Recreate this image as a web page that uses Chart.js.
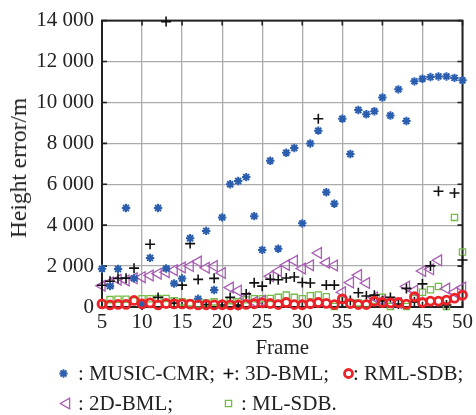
<!DOCTYPE html>
<html>
<head>
<meta charset="utf-8">
<script src="https://cdn.jsdelivr.net/npm/chart.js@4/dist/chart.umd.min.js"></script>
<style>
  html, body { margin: 0; padding: 0; background: #fff; }
  #wrap { position: relative; width: 476px; height: 415px; }
  #wrap canvas { position: absolute; left: 0; top: 0; }
  .lg { position: absolute; font-family: "Liberation Serif", "Times New Roman", serif;
        font-size: 21px; line-height: 24px; color: #222; white-space: pre; }
  #ytitle { position: absolute; left: 18px; top: 168px; width: 0; height: 0; }
  #ytitle span { position: absolute; left: 0; top: 0; transform: translate(-50%, -50%) rotate(-90deg);
        font-family: "Liberation Serif", "Times New Roman", serif; font-size: 23.5px; line-height: 26px;
        color: #222; white-space: pre; }
</style>
</head>
<body>
<div id="wrap">
  <canvas id="c" width="476" height="415"></canvas>
  <div id="ytitle"><span>Height error/m</span></div>
  <span class="lg" style="left:78px; top:361px;">: MUSIC-CMR;</span>
  <span class="lg" style="left:234px; top:361px;">: 3D-BML;</span>
  <span class="lg" style="left:353px; top:361px;">: RML-SDB;</span>
  <span class="lg" style="left:78px; top:391px;">: 2D-BML;</span>
  <span class="lg" style="left:241px; top:391px;">: ML-SDB.</span>
</div>
<script>
// Frame numbers and height errors (m) per method
const frames = [5,6,7,8,9,10,11,12,13,14,15,16,17,18,19,20,21,22,23,24,25,26,27,28,29,30,31,32,33,34,35,36,37,38,39,40,41,42,43,44,45,46,47,48,49,50];

const musicCmr = [1870,1020,1860,4840,1400,150,2400,4840,1880,1150,1390,3360,400,3720,830,4380,6000,6160,6350,4440,2790,7150,2850,7540,7770,4090,7990,8620,5610,5050,9200,7480,9630,9420,9570,10240,9360,10640,9090,11030,11160,11240,11270,11270,11200,11080];

const bml3d = [1060,1260,1400,1410,1900,100,3070,470,13950,190,1070,3100,1350,120,1400,100,470,90,640,1180,1020,1360,1330,1420,1470,1200,1170,9200,1070,1070,230,320,700,540,580,300,470,150,910,250,1130,2010,5660,100,5570,2300];

const rmlSdb = [150,100,130,130,320,150,200,100,170,150,150,140,100,110,100,110,100,100,130,160,200,170,120,220,120,110,160,220,180,120,400,170,120,120,280,220,200,220,140,500,220,290,290,340,430,580];

const bml2d = [1040,1200,1330,1300,1400,1460,1540,1630,1700,1800,1930,2000,2220,1920,2000,1660,950,800,450,250,300,1500,1760,2050,2260,1880,2040,2640,2160,2030,720,1200,1560,1170,470,300,200,200,1000,800,1760,1840,2280,900,720,950];

const mlSdb = [150,360,380,380,300,400,400,420,420,300,250,200,150,200,250,150,310,250,350,400,400,420,470,580,470,400,550,590,500,30,350,150,200,150,330,470,30,230,30,400,720,840,1000,30,4380,2690];

const xTicks = [5,10,15,20,25,30,35,40,45,50];
const yTicks = [0,2000,4000,6000,8000,10000,12000,14000];

const FONT = "'Liberation Serif', 'Times New Roman', serif";

const toPoints = vals => frames.map((f, i) => ({ x: f, y: vals[i] }));

const fmt = v => {
  const s = String(Math.round(v));
  return s.length > 3 ? s.slice(0, s.length - 3) + ' ' + s.slice(-3) : s;
};

const styles = {
  music: { pointStyle: 'star', radius: 4.2, borderWidth: 2, borderColor: '#2c5eae', backgroundColor: '#2c5eae', rotation: 0 },
  bml3d: { pointStyle: 'cross', radius: 5, borderWidth: 1.6, borderColor: '#111', backgroundColor: '#111', rotation: 0 },
  rml:   { pointStyle: 'circle', radius: 4, borderWidth: 2.8, borderColor: '#ec2228', backgroundColor: 'rgba(0,0,0,0)', rotation: 0 },
  bml2d: { pointStyle: 'triangle', radius: 6.2, borderWidth: 1.3, borderColor: '#a95cb4', backgroundColor: 'rgba(0,0,0,0)', rotation: -90 },
  ml:    { pointStyle: 'rect', radius: 4.4, borderWidth: 1.3, borderColor: '#74bd44', backgroundColor: 'rgba(0,0,0,0)', rotation: 0 }
};

const ds = (label, vals, st, order) => ({
  label, data: toPoints(vals), order, clip: false, showLine: false,
  pointStyle: st.pointStyle, pointRadius: st.radius, pointBorderWidth: st.borderWidth,
  pointBorderColor: st.borderColor, pointBackgroundColor: st.backgroundColor,
  pointRotation: st.rotation, pointHoverRadius: st.radius
});

// Frame box, inward tick marks and legend symbols
const framePlugin = {
  id: 'frameBox',
  beforeDatasetsDraw(chart) {
    const { ctx, chartArea: a, scales: { x, y } } = chart;
    ctx.save();
    ctx.strokeStyle = '#222';
    ctx.lineWidth = 2;
    ctx.strokeRect(a.left, a.top, a.right - a.left, a.bottom - a.top);
    ctx.lineWidth = 1.6;
    ctx.beginPath();
    yTicks.forEach(v => {
      const py = y.getPixelForValue(v);
      ctx.moveTo(a.left, py); ctx.lineTo(a.left + 5, py);
      ctx.moveTo(a.right, py); ctx.lineTo(a.right - 5, py);
    });
    xTicks.forEach(v => {
      const px = x.getPixelForValue(v);
      ctx.moveTo(px, a.bottom); ctx.lineTo(px, a.bottom - 5);
      ctx.moveTo(px, a.top); ctx.lineTo(px, a.top + 5);
    });
    ctx.stroke();
    ctx.restore();
  },
  afterDraw(chart) {
    const ctx = chart.ctx;
    const h = Chart.helpers;
    if (!h || !h.drawPoint) return;
    const marks = [
      [styles.music, 63.5, 373.5], [styles.bml3d, 228.5, 373.5], [styles.rml, 348.5, 373.5],
      [styles.bml2d, 66.5, 403.5], [styles.ml, 228.5, 403.5]
    ];
    marks.forEach(([st, mx, my]) => {
      ctx.save();
      ctx.strokeStyle = st.borderColor;
      ctx.fillStyle = st.backgroundColor;
      ctx.lineWidth = st.borderWidth;
      h.drawPoint(ctx, { pointStyle: st.pointStyle, radius: st.radius, rotation: st.rotation, borderWidth: st.borderWidth }, mx, my);
      ctx.restore();
    });
  }
};

new Chart(document.getElementById('c'), {
  type: 'scatter',
  data: {
    datasets: [
      ds('RML-SDB', rmlSdb, styles.rml, 1),
      ds('MUSIC-CMR', musicCmr, styles.music, 2),
      ds('3D-BML', bml3d, styles.bml3d, 3),
      ds('2D-BML', bml2d, styles.bml2d, 4),
      ds('ML-SDB', mlSdb, styles.ml, 5)
    ]
  },
  options: {
    responsive: false,
    devicePixelRatio: 1,
    animation: false,
    events: [],
    layout: { padding: { top: 16, right: 11, bottom: 50, left: 0 } },
    plugins: { legend: { display: false }, tooltip: { enabled: false } },
    scales: {
      x: {
        type: 'linear', min: 5, max: 50,
        afterBuildTicks: s => { s.ticks = xTicks.map(v => ({ value: v })); },
        afterFit: s => { s.height = 58; },
        ticks: { color: '#222', padding: 3, font: { family: FONT, size: 21 }, maxRotation: 0 },
        grid: { color: '#ababab', lineWidth: 1.3, drawTicks: false },
        border: { display: true, color: '#222', width: 2 },
        title: { display: true, text: 'Frame', color: '#222', font: { family: FONT, size: 21 }, padding: { top: 0, bottom: 4 } }
      },
      y: {
        type: 'linear', min: 0, max: 14000,
        afterBuildTicks: s => { s.ticks = yTicks.map(v => ({ value: v })); },
        afterFit: s => { s.width = 102; },
        ticks: { color: '#222', padding: 8, font: { family: FONT, size: 21 }, callback: v => fmt(v) },
        grid: { color: '#ababab', lineWidth: 1.3, drawTicks: false },
        border: { display: true, color: '#222', width: 2 },
        title: { display: false }
      }
    }
  },
  plugins: [framePlugin]
});
</script>
</body>
</html>
